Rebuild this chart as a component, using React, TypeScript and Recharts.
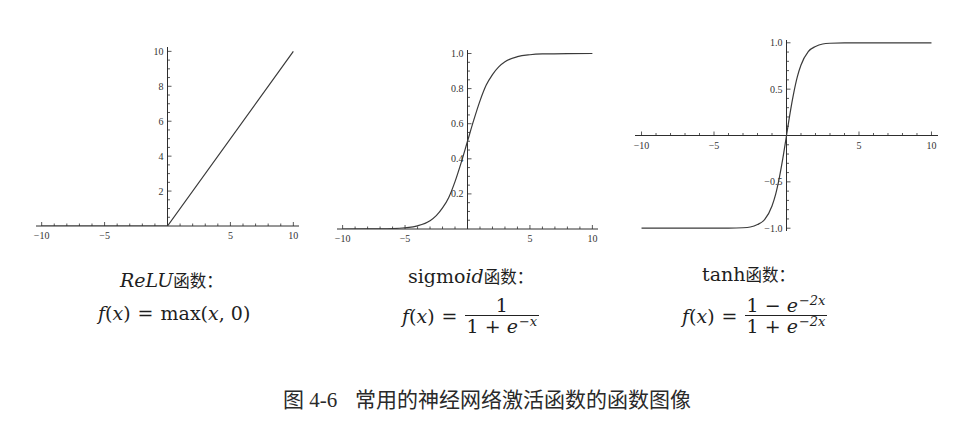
import React from 'react'
import { LineChart, Line, XAxis, YAxis, ReferenceLine, ReferenceDot } from 'recharts'

// sampled readings of each curve
const reluX = [-10, 0, 10]
const reluY = [0, 0, 10]

const sigX = [-10, -8, -6, -5, -4, -3, -2.5, -2, -1.5, -1, -0.5, 0, 0.5, 1, 1.5, 2, 2.5, 3, 4, 5, 6, 8, 10]
const sigY = [0, 0.0003, 0.0025, 0.007, 0.018, 0.047, 0.076, 0.12, 0.18, 0.27, 0.38, 0.5, 0.62, 0.73, 0.82, 0.88, 0.924, 0.953, 0.982, 0.993, 0.9975, 0.9997, 1]

const tanhX = [-10, -6, -4, -3, -2.5, -2, -1.5, -1, -0.75, -0.5, -0.25, 0, 0.25, 0.5, 0.75, 1, 1.5, 2, 2.5, 3, 4, 6, 10]
const tanhY = [-1, -1, -0.999, -0.995, -0.987, -0.96, -0.905, -0.76, -0.635, -0.46, -0.245, 0, 0.245, 0.46, 0.635, 0.76, 0.905, 0.96, 0.987, 0.995, 0.999, 1, 1]

// tick labels
const xMajor = [-10, -5, 5, 10]
const reluYMajor = [2, 4, 6, 8, 10]
const sigYMajor = [0.2, 0.4, 0.6, 0.8, 1.0]
const tanhYMajor = [-1, -0.5, 0.5, 1]

const AXIS = '#2e2e2e'
const CURVE = '#3a3a3a'
const TICK_FONT = '"Liberation Serif", serif'
const PAD = 24

const steps = (from: number, to: number, step: number, skip: number[]) => {
  const out: number[] = []
  const n = Math.round((to - from) / step)
  for (let i = 0; i <= n; i++) {
    const v = +(from + i * step).toFixed(4)
    if (v !== 0 && !skip.some((s) => Math.abs(s - v) < 1e-6)) out.push(v)
  }
  return out
}

const fmt = (v: number, digits: number) => {
  const s = v.toFixed(digits)
  return v < 0 ? '\u2212' + s.slice(1) : s
}

const xTickShape = (label: string, major: boolean) => (p: any) => (
  <g>
    <line x1={p.cx} x2={p.cx} y1={p.cy} y2={p.cy - (major ? 4 : 2.5)} stroke={AXIS} strokeWidth={0.8} />
    {label && (
      <text x={p.cx} y={p.cy + 13} textAnchor="middle" fontSize={10} fontFamily={TICK_FONT} fill="#333">
        {label}
      </text>
    )}
  </g>
)

const yTickShape = (label: string, major: boolean) => (p: any) => (
  <g>
    <line x1={p.cx} x2={p.cx + (major ? 4 : 2.5)} y1={p.cy} y2={p.cy} stroke={AXIS} strokeWidth={0.8} />
    {label && (
      <text x={p.cx - 4} y={p.cy + 3.5} textAnchor="end" fontSize={10} fontFamily={TICK_FONT} fill="#333">
        {label}
      </text>
    )}
  </g>
)

interface Box {
  left: number
  top: number
  width: number
  height: number
}

interface PlotProps {
  box: Box
  xs: number[]
  ys: number[]
  xDomain: [number, number]
  yDomain: [number, number]
  yMajor: number[]
  yMinorStep: number
  yDigits: number
  curve: 'linear' | 'monotone'
}

function FnPlot({ box, xs, ys, xDomain, yDomain, yMajor, yMinorStep, yDigits, curve }: PlotProps) {
  const data = xs.map((x, i) => ({ x, y: ys[i] }))
  const xMinor = steps(-10, 10, 1, xMajor)
  const yLo = Math.ceil(yDomain[0] / yMinorStep) * yMinorStep
  const yHi = Math.floor(yDomain[1] / yMinorStep) * yMinorStep
  const yMinor = steps(yLo, yHi, yMinorStep, yMajor)
  return (
    <div style={{ position: 'absolute', left: box.left - PAD, top: box.top - PAD }}>
      <LineChart
        width={box.width + 2 * PAD}
        height={box.height + 2 * PAD}
        data={data}
        margin={{ top: PAD, right: PAD, bottom: PAD, left: PAD }}
      >
        <XAxis type="number" dataKey="x" domain={xDomain} hide allowDataOverflow />
        <YAxis type="number" domain={yDomain} hide allowDataOverflow />
        <ReferenceLine y={0} stroke={AXIS} strokeWidth={1} />
        <ReferenceLine x={0} stroke={AXIS} strokeWidth={1} />
        {xMinor.map((t) => (
          <ReferenceDot key={'xm' + t} x={t} y={0} r={0} shape={xTickShape('', false)} />
        ))}
        {xMajor.map((t) => (
          <ReferenceDot key={'xM' + t} x={t} y={0} r={0} shape={xTickShape(fmt(t, 0), true)} />
        ))}
        {yMinor.map((t) => (
          <ReferenceDot key={'ym' + t} x={0} y={t} r={0} shape={yTickShape('', false)} />
        ))}
        {yMajor.map((t) => (
          <ReferenceDot key={'yM' + t} x={0} y={t} r={0} shape={yTickShape(fmt(t, yDigits), true)} />
        ))}
        <Line
          type={curve}
          dataKey="y"
          stroke={CURVE}
          strokeWidth={1.2}
          dot={false}
          activeDot={false}
          isAnimationActive={false}
        />
      </LineChart>
    </div>
  )
}

const LATIN = '"DejaVu Serif", serif'
const CJK = '"Noto Sans CJK SC", sans-serif'

const I = ({ children }: { children: React.ReactNode }) => <span style={{ fontStyle: 'italic' }}>{children}</span>
const Cjk = ({ children }: { children: React.ReactNode }) => (
  <span style={{ fontFamily: CJK, fontSize: 16.5 }}>{children}</span>
)
const Sup = ({ children }: { children: React.ReactNode }) => (
  <span style={{ fontSize: 13, position: 'relative', top: -7, fontStyle: 'italic', marginLeft: 1 }}>{children}</span>
)
const Eq = () => <span style={{ margin: '0 7px' }}>=</span>

const Frac = ({ num, den }: { num: React.ReactNode; den: React.ReactNode }) => (
  <span style={{ display: 'inline-flex', flexDirection: 'column', alignItems: 'center' }}>
    <span style={{ lineHeight: '20px', height: 20 }}>{num}</span>
    <span style={{ alignSelf: 'stretch', borderTop: '1.2px solid #222' }} />
    <span style={{ lineHeight: '20px', height: 20, padding: '0 2px' }}>{den}</span>
  </span>
)

const textBase: React.CSSProperties = {
  position: 'absolute',
  fontFamily: LATIN,
  fontSize: 19,
  color: '#1e1e1e',
  whiteSpace: 'pre',
  lineHeight: '20px',
}

export default function App() {
  return (
    <div style={{ position: 'absolute', left: 0, top: 0, width: 977, height: 421, background: '#fff', overflow: 'hidden' }}>
      <FnPlot
        box={{ left: 36, top: 47, width: 263, height: 179 }}
        xs={reluX}
        ys={reluY}
        xDomain={[-10.45, 10.45]}
        yDomain={[0, 10.25]}
        yMajor={reluYMajor}
        yMinorStep={0.5}
        yDigits={0}
        curve="linear"
      />
      <FnPlot
        box={{ left: 337, top: 50, width: 261, height: 179 }}
        xs={sigX}
        ys={sigY}
        xDomain={[-10.45, 10.45]}
        yDomain={[0, 1.02]}
        yMajor={sigYMajor}
        yMinorStep={0.05}
        yDigits={1}
        curve="monotone"
      />
      <FnPlot
        box={{ left: 635, top: 40, width: 303, height: 191 }}
        xs={tanhX}
        ys={tanhY}
        xDomain={[-10.45, 10.45]}
        yDomain={[-1.03, 1.03]}
        yMajor={tanhYMajor}
        yMinorStep={0.1}
        yDigits={1}
        curve="monotone"
      />

      <div style={{ ...textBase, left: 120, top: 270 }}>
        <I>ReLU</I>
        <Cjk>函数：</Cjk>
      </div>
      <div style={{ ...textBase, left: 98, top: 303 }}>
        <I>f</I>(<I>x</I>)<Eq />max(<I>x</I>, 0)
      </div>

      <div style={{ ...textBase, left: 408, top: 266 }}>
        sigmo<I>id</I>
        <Cjk>函数：</Cjk>
      </div>
      <div style={{ ...textBase, left: 402, top: 295, display: 'flex', alignItems: 'center' }}>
        <span>
          <I>f</I>(<I>x</I>)<Eq />
        </span>
        <Frac
          num="1"
          den={
            <>
              1 + <I>e</I>
              <Sup>{'\u2212x'}</Sup>
            </>
          }
        />
      </div>

      <div style={{ ...textBase, left: 702, top: 264 }}>
        tanh
        <Cjk>函数：</Cjk>
      </div>
      <div style={{ ...textBase, left: 682, top: 295, display: 'flex', alignItems: 'center' }}>
        <span>
          <I>f</I>(<I>x</I>)<Eq />
        </span>
        <Frac
          num={
            <>
              1 {'\u2212'} <I>e</I>
              <Sup>{'\u22122x'}</Sup>
            </>
          }
          den={
            <>
              1 + <I>e</I>
              <Sup>{'\u22122x'}</Sup>
            </>
          }
        />
      </div>

      <div style={{ position: 'absolute', left: 283, top: 388, fontSize: 21, lineHeight: '21px', color: '#2a2a2a', whiteSpace: 'pre' }}>
        <span style={{ fontFamily: CJK }}>图</span>
        <span style={{ fontFamily: '"Liberation Serif", serif' }}> 4-6</span>
      </div>
      <div style={{ position: 'absolute', left: 355, top: 388, fontSize: 21, lineHeight: '21px', color: '#2a2a2a', fontFamily: CJK, whiteSpace: 'pre' }}>
        常用的神经网络激活函数的函数图像
      </div>
    </div>
  )
}
